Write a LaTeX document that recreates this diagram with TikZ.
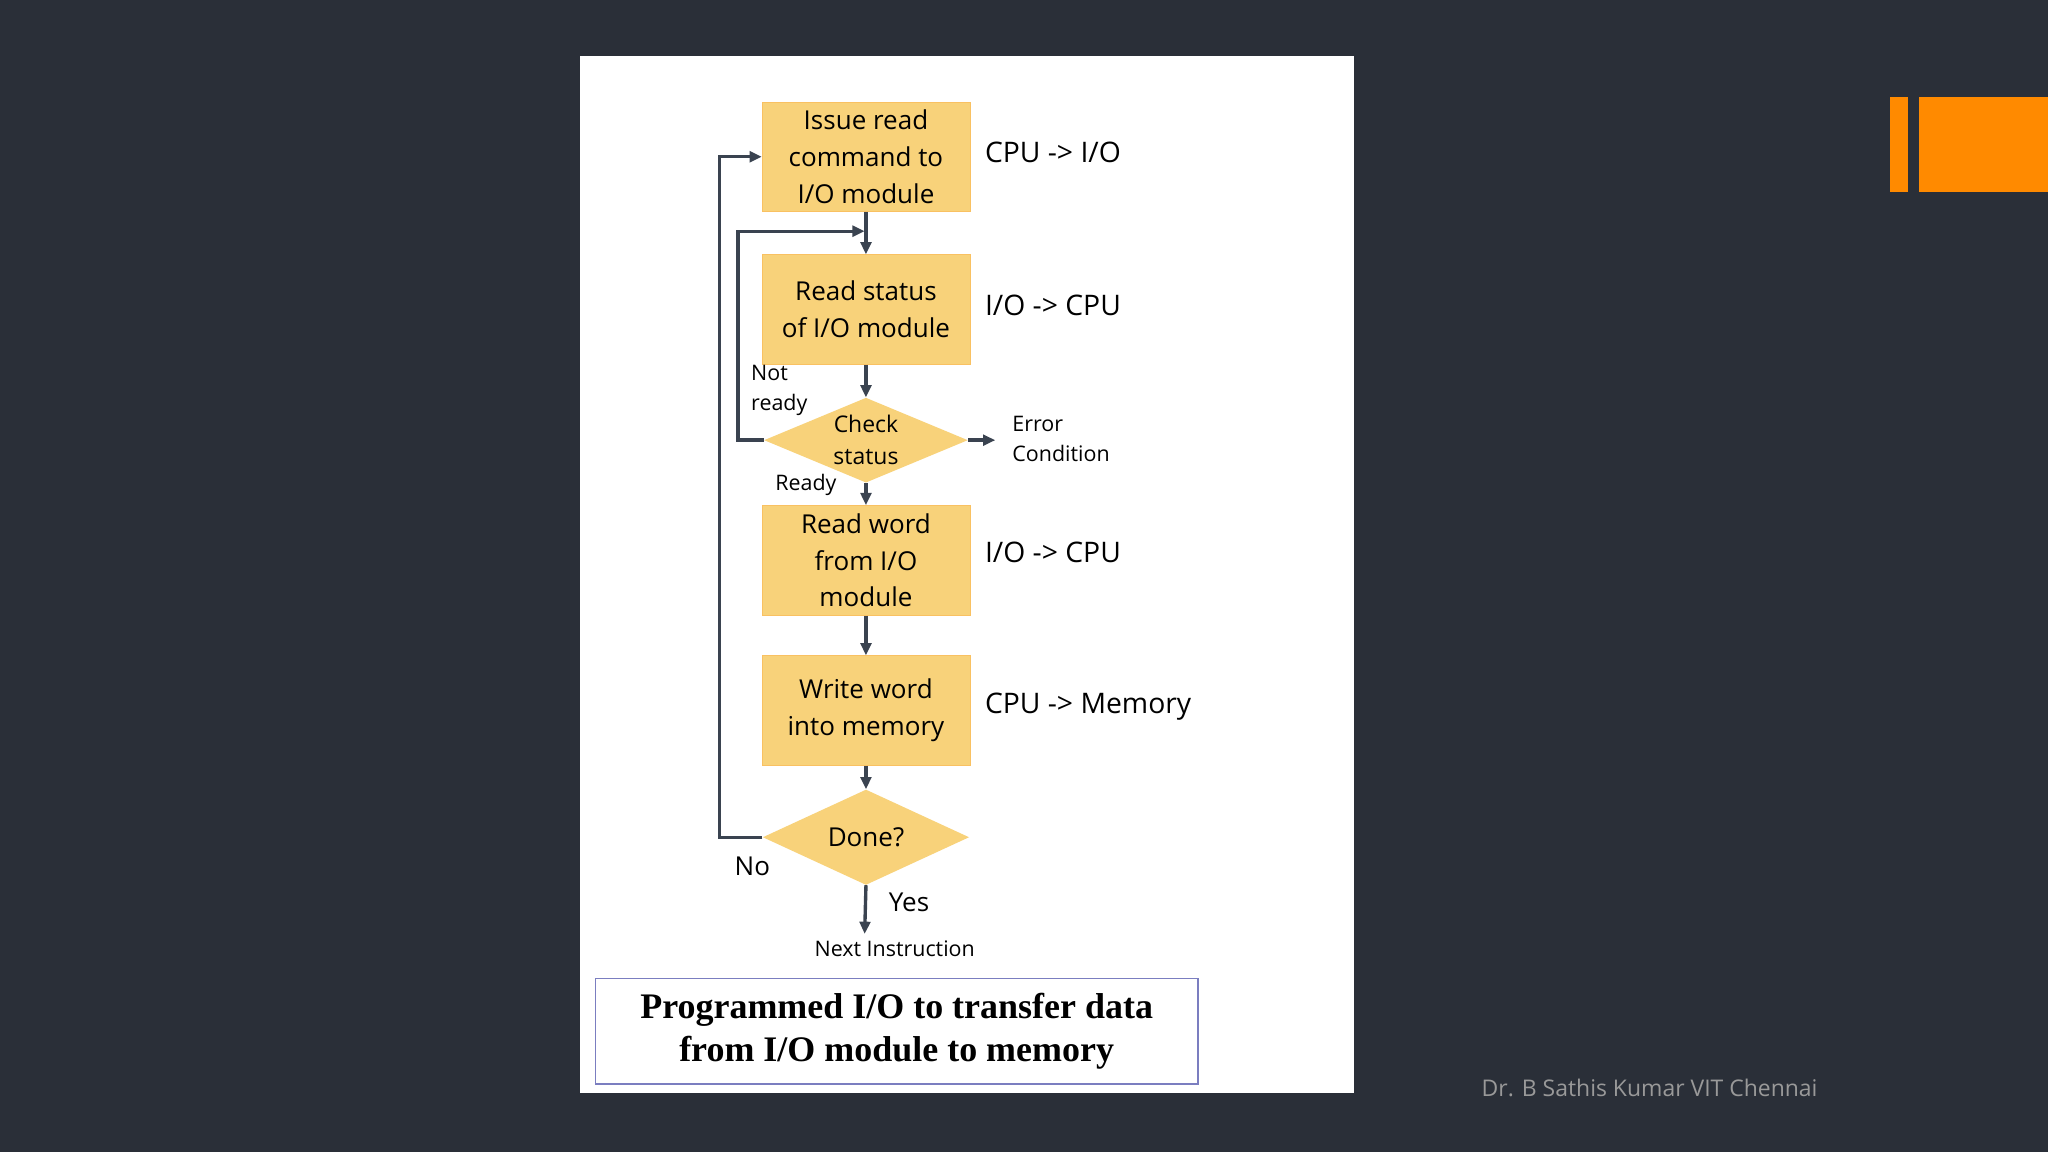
\documentclass[tikz,border=0pt]{standalone}
\usepackage{fontspec}
\setmainfont{Open Sans}
\usetikzlibrary{shapes.geometric,arrows.meta}
\definecolor{bg}{HTML}{2A2F38}
\definecolor{boxc}{HTML}{F8D27A}
\definecolor{orng}{HTML}{FF8A00}
\definecolor{ln}{HTML}{3A4350}
\begin{document}
\begin{tikzpicture}[x=0.03cm,y=-0.03cm,
 box/.style={draw=boxc!80!orange,fill=boxc,minimum width=4.77cm,minimum height=2.52cm,inner sep=0pt,align=center,font=\fontsize{17}{24}\selectfont},
 dia/.style={diamond,fill=boxc,draw=none,aspect=2.4,inner sep=0pt,align=center},
 lab/.style={font=\fontsize{18.5}{22}\selectfont,anchor=west},
 sm/.style={font=\fontsize{14}{19.5}\selectfont,align=left},
 ar/.style={draw=ln,line width=2.2pt,-{Triangle[length=8pt,width=7pt]}},
 pl/.style={draw=ln,line width=2.2pt}]
\fill[bg] (0,0) rectangle (1568,882);
\useasboundingbox (0,0) rectangle (1568,882);
\fill[white] (444,43) rectangle (1037,837);
\fill[orng] (1447,74) rectangle (1461,147);
\fill[orng] (1469,74) rectangle (1568,147);
\node[font=\fontsize{15}{17}\selectfont,text=gray!80] (foot) at (1263,833) {Dr. B Sathis Kumar VIT Chennai};

\node[box] (b1) at (663,120) {Issue read\\command to\\I/O module};
\node[box] (b2) at (663,237) {Read status\\of I/O module};
\node[dia,minimum width=4.68cm,minimum height=1.95cm,font=\fontsize{15}{21}\selectfont] (d1) at (663,337) {Check\\status};
\node[box] (b3) at (663,429) {Read word\\from I/O\\module};
\node[box] (b4) at (663,544) {Write word\\into memory};
\node[dia,minimum width=4.74cm,minimum height=2.19cm,font=\fontsize{17}{22}\selectfont] (d2) at (663,641) {Done?};

\node[lab] (l1) at (750,117) {CPU -> I/O};
\node[lab] (l2) at (750,234) {I/O -> CPU};
\node[lab] (l3) at (750,423) {I/O -> CPU};
\node[lab] (l4) at (750,541) {CPU -> Memory};
\node[sm,anchor=west] (err) at (771,336) {Error\\Condition};
\node[sm,anchor=west] (nr) at (571,299) {Not\\ready};
\node[sm] (rd) at (617,371) {Ready};
\node[font=\fontsize{17}{20}\selectfont] (no) at (576,663) {No};
\node[font=\fontsize{17}{20}\selectfont] (yes) at (696,691) {Yes};
\node[sm] (next) at (685,726) {Next Instruction};

\coordinate (j) at (662,177);
\coordinate (e) at (762,337);
\coordinate (n) at (662,715);
\draw[ar] (b1.south) -- (b2.north);
\draw[ar] (b2.south) -- (d1.north);
\draw[ar] (d1.south) -- (b3.north);
\draw[ar] (b3.south) -- (b4.north);
\draw[ar] (b4.south) -- (d2.north);
\draw[ar] (d2.south) -- (n);
\draw[ar] (d1.east) -- (e);
\draw[ar] (d1.west) -- (565,337) -- (565,177) -- (j);
\draw[ar] (d2.west) -- (551,641) -- (551,120) -- (b1.west);

\node[draw=ln!60!blue!60,line width=1pt,minimum width=13.83cm,minimum height=2.43cm,align=center,
 font=\fontspec{Liberation Serif}\bfseries\fontsize{23.5}{28}\selectfont] (cap) at (686.5,789.5)
 {Programmed I/O to transfer data\\from I/O module to memory};
\end{tikzpicture}
\end{document}
